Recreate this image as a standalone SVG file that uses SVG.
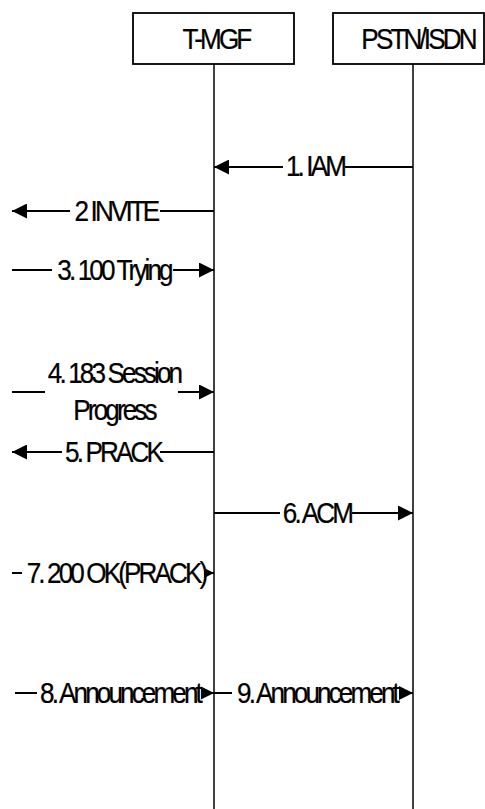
<svg xmlns="http://www.w3.org/2000/svg" width="485" height="809" viewBox="0 0 485 809">
<style>
.box{fill:#fff;stroke:#000;stroke-width:1.8}
.life{stroke:#000;stroke-width:1.5}
.msg{stroke:#000;stroke-width:1.8;fill:none;marker-end:url(#ah)}
.bg{fill:#fff}
text{font-family:"Liberation Sans",Arial,sans-serif;font-size:29px;letter-spacing:-3.2px;text-anchor:middle;fill:#000;stroke:#000;stroke-width:0.25}
</style>
<defs>
<marker id="ah" markerUnits="userSpaceOnUse" markerWidth="15" markerHeight="15" refX="15" refY="7.5" orient="auto">
<path d="M0,0 L15,7.5 L0,15 z" fill="#000"/>
</marker>
</defs>
<rect width="485" height="809" fill="#fff"/>
<g id="tmgf">
<rect class="box" x="133" y="13" width="161" height="51"/>
<text transform="translate(216,49) scale(0.9,1)">T-MGF</text>
<line class="life" x1="214" y1="64" x2="214" y2="809"/>
</g>
<g id="pstn">
<rect class="box" x="333" y="13" width="151" height="51"/>
<text transform="translate(418,49) scale(0.9,1)">PSTN/ISDN</text>
<line class="life" x1="413" y1="64" x2="413" y2="809"/>
</g>
<g id="connectors">
<line class="msg" x1="413" y1="167" x2="214" y2="167"/>
<rect class="bg" x="283" y="153" width="62" height="22"/>
<text transform="translate(315,176) scale(0.9,1)">1. IAM</text>

<line class="msg" x1="214" y1="211" x2="12" y2="211"/>
<rect class="bg" x="70" y="197" width="90" height="24"/>
<text transform="translate(116,221) scale(0.9,1)">2 INVITE</text>

<line class="msg" x1="12" y1="270" x2="214" y2="270"/>
<rect class="bg" x="52" y="256" width="121" height="24"/>
<text transform="translate(114,280) scale(0.9,1)">3. 100 Trying</text>

<line class="msg" x1="12" y1="392" x2="214" y2="392"/>
<rect class="bg" x="45" y="358" width="133" height="62"/>
<text transform="translate(114,383) scale(0.9,1)">4. 183 Session</text>
<text transform="translate(114,420) scale(0.9,1)">Progress</text>

<line class="msg" x1="214" y1="452" x2="12" y2="452"/>
<rect class="bg" x="62" y="438" width="98" height="24"/>
<text transform="translate(113,462) scale(0.9,1)">5. PRACK</text>

<line class="msg" x1="214" y1="513" x2="413" y2="513"/>
<rect class="bg" x="280" y="499" width="72" height="24"/>
<text transform="translate(317,523) scale(0.9,1)">6. ACM</text>

<line class="msg" x1="12" y1="573" x2="214" y2="573"/>
<rect class="bg" x="22" y="559" width="182" height="24"/>
<text transform="translate(116,583) scale(0.9,1)">7. 200 OK(PRACK)</text>

<line class="msg" x1="15" y1="693" x2="214" y2="693"/>
<rect class="bg" x="37" y="679" width="164" height="24"/>
<text transform="translate(120,703) scale(0.9,1)">8. Announcement</text>

<line class="msg" x1="214" y1="693" x2="413" y2="693"/>
<rect class="bg" x="232" y="679" width="167" height="24"/>
<text transform="translate(317,703) scale(0.9,1)">9. Announcement</text>
</g>
</svg>
